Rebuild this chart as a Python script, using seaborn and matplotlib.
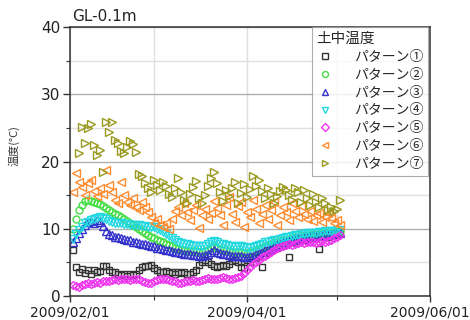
import numpy as np
import pandas as pd
import matplotlib
matplotlib.use("Agg")
import matplotlib.pyplot as plt
import matplotlib.dates as mdates
from matplotlib.ticker import MultipleLocator
import seaborn as sns

nan = np.nan
start_date = "2009-02-02"

p1 = [6.8, 4.3, 3.6, 4.0, 3.4, 3.8, 3.2, 3.9, 3.5, 3.7,
      4.4, 4.5, 3.9, 3.5, 3.6, 3.2, 3.1, 3.3, 3.0, 3.2,
      3.1, 3.3, 3.9, 4.3, 4.5, 4.4, 4.6, 4.2, 3.8, 3.6,
      3.5, 3.7, 3.4, 3.6, 3.3, 3.5, 3.4, 3.6, 3.3, 3.2,
      3.5, 3.8, 4.6, 5.0, 5.3, 5.1, 4.8, 4.5, 4.3, 4.4,
      4.6, 4.5, 4.7, 5.2, 5.4, 5.0, 4.3, 4.2, 5.4, 5.0,
      5.8, 5.6, 6.0, 4.3, 6.4, 6.6, 6.8, 7.0, 7.2, 7.4,
      7.6, 7.7, 5.8, 8.0, 8.2, 8.3, 8.5, 8.4, 8.5, 8.6,
      8.7, 8.6, 7.0, 8.8, 8.9, 8.8, 9.0, 9.1, 9.2, 9.3]
p2 = [10.0, 11.5, 12.8, 13.6, 14.1, 14.3, 14.2, 14.0, 13.8, 13.7,
      13.4, 13.1, 12.8, 12.5, 12.2, 12.0, 11.7, 11.4, 11.1, 10.8,
      10.5, 10.2, 9.9, 9.6, 9.3, 9.0, 8.8, 8.6, 8.4, 8.2,
      8.0, 7.8, 7.6, 7.4, 7.2, 7.0, 6.9, 6.8, 6.7, 6.7,
      6.7, 6.7, 6.6, 6.6, 6.7, 6.9, 7.2, 7.4, 7.2, 7.0,
      6.9, 6.8, 6.7, 6.6, 6.6, 6.5, 6.5, 6.4, 6.4, 6.5,
      6.6, 6.8, 7.0, 7.2, 7.4, 7.6, 7.8, 8.0, 8.1, 8.2,
      8.3, 8.4, 8.5, 8.6, 8.7, 8.8, 9.0, 8.9, 9.0, 9.1,
      9.2, 9.1, 9.2, 9.3, 9.4, 9.3, 9.4, 9.5, 9.6, 9.6]
p3 = [8.0, 8.6, 9.3, 10.0, 10.6, 11.0, 11.2, 10.8, 11.3, 11.0,
      10.4, 9.6, 9.2, 9.0, 8.8, 8.7, 8.6, 8.5, 8.4, 8.3,
      8.1, 8.0, 7.9, 7.8, 7.7, 7.6, 7.5, 7.4, 7.2, 7.1,
      7.0, 6.9, 6.8, 6.7, 6.6, 6.5, 6.4, 6.3, 6.3, 6.2,
      6.1, 6.1, 6.0, 6.0, 6.1, 6.3, 6.6, 6.8, 6.6, 6.4,
      6.3, 6.2, 6.1, 6.0, 6.0, 5.9, 5.9, 5.8, 5.8, 5.9,
      6.0, 6.2, 6.4, 6.6, 6.8, 7.0, 7.2, 7.4, 7.6, 7.8,
      8.0, 8.1, 8.2, 8.3, 8.5, 8.6, 8.8, 8.7, 8.8, 8.9,
      9.0, 8.9, 9.0, 9.1, 9.2, 9.1, 9.2, 9.3, 9.4, 9.4]
p4 = [8.5, 9.2, 9.8, 10.3, 10.8, 11.0, 11.3, 11.5, 11.6, 11.8,
      11.6, 11.4, 11.2, 11.0, 10.9, 10.8, 10.8, 10.7, 10.7, 10.6,
      10.6, 10.5, 10.5, 10.4, 10.4, 10.3, 10.3, 10.2, 10.0, 9.8,
      9.5, 9.2, 8.9, 8.6, 8.3, 8.1, 7.9, 7.8, 7.7, 7.6,
      7.5, 7.5, 7.4, 7.4, 7.5, 7.7, 8.0, 8.2, 8.0, 7.8,
      7.7, 7.6, 7.5, 7.4, 7.3, 7.5, 7.4, 7.3, 7.2, 7.2,
      7.3, 7.4, 7.6, 7.8, 8.0, 8.1, 8.2, 8.3, 8.4, 8.5,
      8.6, 8.7, 8.8, 8.9, 9.0, 9.1, 9.2, 9.2, 9.3, 9.3,
      9.4, 9.4, 9.5, 9.5, 9.6, 9.6, 9.7, 9.7, 9.8, 9.8]
p5 = [1.7, 1.5, 1.4, 1.6, 1.8, 1.9, 1.8, 2.0, 2.1, 2.0,
      2.2, 2.3, 2.2, 2.4, 2.5, 2.4, 2.5, 2.6, 2.5, 2.4,
      2.5, 2.6, 2.5, 2.3, 2.1, 1.9, 2.0, 2.2, 2.4, 2.5,
      2.6, 2.5, 2.4, 2.3, 2.2, 2.0, 1.9, 2.1, 2.2, 2.3,
      2.4, 2.3, 2.2, 2.4, 2.6, 2.7, 2.6, 2.5, 2.6, 2.7,
      2.8, 2.7, 2.6, 2.5, 2.7, 2.8, 3.0, 3.4, 3.9, 4.3,
      4.7, 5.0, 5.4, 5.8, 6.0, 6.3, 6.6, 6.9, 7.1, 7.3,
      7.5, 7.6, 7.7, 7.6, 7.8, 7.9, 8.0, 7.9, 8.0, 8.1,
      8.0, 7.9, 8.1, 8.2, 8.0, 8.2, 8.4, 8.6, 8.8, 9.0]
p6 = [15.5, 18.3, 17.0, 16.2, 15.0, 16.8, 17.3, 15.6, 14.8, 16.0,
      15.2, 18.8, 16.5, 15.5, 14.3, 13.8, 16.9, 15.0, 14.0, 13.5,
      14.5, 13.2, 12.8, 14.0, 13.3, 12.5, 11.8, 10.8, 11.5, 10.5,
      10.2, 10.8, 10.0, 11.5, 12.7, 13.2, 12.0, 13.8, 12.5, 11.3,
      12.8, 13.5, 10.1, 12.0, 13.0, 11.5, 12.3, 14.2, 13.1, 12.0,
      10.5, 13.6, 14.7, 12.2, 11.0, 13.4, 14.0, 10.3, 12.5, 11.8,
      14.3, 13.0, 10.8, 12.2, 13.5, 11.4, 12.8, 14.0, 10.6, 12.0,
      13.2, 12.5, 11.3, 13.8, 12.7, 11.8, 13.4, 12.2, 11.5, 12.6,
      11.2, 12.0, 12.4, 11.0, 11.8, 12.3, 11.6, 10.9, 11.3, 10.6]
p7 = [nan, nan, 21.3, 25.2, 22.8, 25.0, 25.6, 22.5, 21.0, 21.7,
      18.5, 25.9, 24.4, 25.8, 23.2, 22.8, 21.5, 21.3, 22.2, 23.0,
      22.6, 21.4, 18.2, 17.9, 16.8, 16.1, 15.4, 17.3, 16.5, 15.8,
      17.0, 16.4, 15.2, 14.7, 16.0, 17.6, 15.5, 14.3, 13.9, 15.1,
      16.2, 17.1, 14.6, 13.8, 15.0, 16.3, 17.5, 18.5, 16.8, 15.4,
      14.2, 15.7, 14.8, 16.0, 17.0, 13.9, 15.3, 16.6, 14.7, 15.9,
      17.8, 16.4, 17.2, 15.6, 14.5, 16.0, 15.2, 13.8, 14.9, 15.6,
      16.2, 15.8, 15.0, 14.3, 16.0, 15.4, 14.0, 15.7, 14.6, 13.5,
      15.2, 14.0, 13.2, 14.6, 13.8, 12.8, 13.3, 12.6, 13.0, 14.3]

labels = ["パターン①", "パターン②", "パターン③", "パターン④",
          "パターン⑤", "パターン⑥", "パターン⑦"]
series = [p1, p2, p3, p4, p5, p6, p7]
colors = ["#333333", "#44dd44", "#3333cc", "#22d8e0", "#ee33ee", "#ff8c30", "#9a9a20"]
markers = ["s", "o", "^", "v", "D", "<", ">"]
msizes = [4.6, 5.0, 5.4, 5.4, 4.4, 5.4, 5.4]

sns.set_style("ticks")
plt.rcParams["font.family"] = ["Noto Sans CJK JP", "DejaVu Sans"]

fig = plt.figure(figsize=(4.7, 3.2), dpi=100)
ax = fig.add_axes([70 / 470, 1 - 296 / 320, 360 / 470, 269 / 320])

dates = pd.date_range(start_date, periods=len(p1), freq="D")
for vals, lab, c, m, ms in zip(series, labels, colors, markers, msizes):
    df = pd.DataFrame({"date": dates, "temp": vals}).dropna()
    sns.lineplot(data=df, x="date", y="temp", ax=ax, linestyle="none",
                 marker=m, markersize=ms, markerfacecolor="none",
                 markeredgecolor=c, markeredgewidth=1.0, color=c,
                 label=lab, estimator=None, sort=False)

ax.set_xlim(pd.Timestamp("2009-02-01"), pd.Timestamp("2009-06-01"))
ax.set_ylim(0, 40)
ax.xaxis.set_major_locator(mdates.MonthLocator(bymonth=[2, 4, 6]))
ax.xaxis.set_minor_locator(mdates.MonthLocator())
ax.xaxis.set_major_formatter(mdates.DateFormatter("%Y/%m/%d"))
ax.yaxis.set_major_locator(MultipleLocator(10))
ax.yaxis.set_minor_locator(MultipleLocator(5))

ax.grid(which="major", axis="y", color="#b0b0b0", linewidth=1.0)
ax.grid(which="minor", axis="y", color="#e0e0e0", linewidth=1.0)
ax.grid(which="both", axis="x", color="#e0e0e0", linewidth=1.0)
ax.set_axisbelow(True)

for s in ax.spines.values():
    s.set_visible(True)
    s.set_color("#333333")
    s.set_linewidth(1.1)

ax.tick_params(axis="y", which="major", direction="out", length=5,
               width=1.0, color="#333333", labelsize=11, pad=2,
               labelfontfamily="DejaVu Sans", labelcolor="#222222")
ax.tick_params(axis="x", which="major", direction="out", length=4,
               width=1.0, color="#333333", labelsize=10, pad=3,
               labelfontfamily="DejaVu Sans", labelcolor="#222222")
ax.tick_params(axis="both", which="minor", direction="out", length=3,
               width=0.8, color="#333333")

ax.set_xlabel("")
ax.set_ylabel("温度(°C)", fontsize=8, color="#333333")
ax.yaxis.set_label_coords(-0.14, 0.56)

ax.text(0.005, 1.012, "GL-0.1m", transform=ax.transAxes, fontsize=11,
        ha="left", va="bottom", color="#222222", family="DejaVu Sans")

leg = ax.legend(title="土中温度", loc="upper right", bbox_to_anchor=(0.995, 1.0),
                borderaxespad=0, fontsize=10, title_fontsize=10.5,
                frameon=True, fancybox=False, edgecolor="#999999",
                labelspacing=0.28, handletextpad=1.5, handlelength=1.2,
                borderpad=0.35, markerscale=0.85)
leg._legend_box.align = "left"
leg.get_frame().set_linewidth(0.8)

fig.savefig("out.png", dpi=100)
